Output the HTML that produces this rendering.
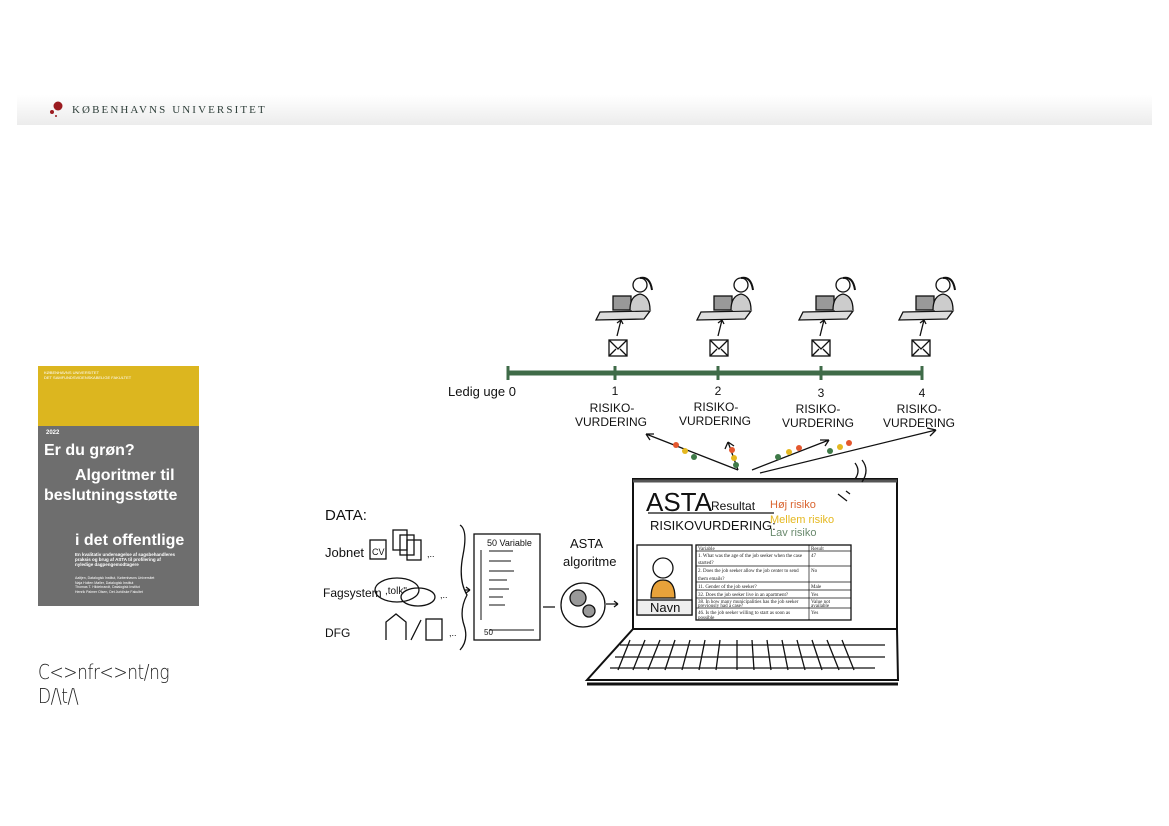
<!DOCTYPE html>
<html><head><meta charset="utf-8"><style>
body{margin:0;width:1169px;height:826px;background:#fff;position:relative;overflow:hidden;font-family:"Liberation Sans",sans-serif}
.hdr{position:absolute;left:17px;top:95px;width:1135px;height:30px;background:linear-gradient(#fff,#ececec)}
.ku{position:absolute;left:72px;top:104px;font-family:"Liberation Serif",serif;font-size:11px;letter-spacing:2.1px;color:#2f3f3a}
.cov{position:absolute;left:38px;top:366px;width:161px;height:240px;background:#6e6e6e}
.cov .y{position:absolute;left:0;top:0;width:161px;height:60px;background:#dcb61f}
.cov div{position:absolute;color:#fff;font-weight:bold}
.ct{position:absolute;left:38px;top:660px;font-size:20px;color:#222;line-height:24px;font-family:"DejaVu Sans",sans-serif;font-weight:300;transform:scaleX(0.85);transform-origin:0 0;letter-spacing:-0.5px}
</style></head><body>
<div class="hdr"></div>
<svg style="position:absolute;left:48px;top:100px" width="20" height="20"><circle cx="10" cy="6" r="4.5" fill="#9b1b20"/><circle cx="4" cy="12" r="2" fill="#9b1b20"/><circle cx="8" cy="16" r="1" fill="#9b1b20"/></svg>
<div class="ku">KØBENHAVNS UNIVERSITET</div>
<div class="cov"><div class="y"></div>
<div style="left:6px;top:4px;font-size:4px;font-weight:normal">KØBENHAVNS UNIVERSITET<br>DET SAMFUNDSVIDENSKABELIGE FAKULTET</div>
<div style="left:8px;top:64px;font-size:6px">2022</div>
<div style="left:6px;top:76px;font-size:16px">Er du grøn?</div>
<div style="left:37px;top:101px;font-size:16px">Algoritmer til</div>
<div style="left:6px;top:121px;font-size:16px">beslutningsstøtte</div>
<div style="left:37px;top:166px;font-size:16px">i det offentlige</div>
<div style="left:37px;top:186px;font-size:4.5px;line-height:5px">En kvalitativ undersøgelse af sagsbehandleres<br>praksis og brug af ASTA til profilering af<br>nyledige dagpengemodtagere</div>
<div style="left:37px;top:210px;font-size:3.5px;line-height:4.5px;font-weight:normal">Aaltjen, Datalogisk Institut, Københavns Universitet<br>Naja Holten Møller, Datalogisk Institut<br>Thomas T. Hildebrandt, Datalogisk Institut<br>Henrik Palmer Olsen, Det Juridiske Fakultet</div>
</div>
<div class="ct">C&lt;&gt;nfr&lt;&gt;nt/ng<br>D/\t/\</div>
<svg style="position:absolute;left:0;top:0" width="1169" height="826" font-family="Liberation Sans, sans-serif">
<g stroke="#111" fill="none" stroke-width="1.3">
<line x1="508" y1="373" x2="922" y2="373" stroke="#3f6b48" stroke-width="5"/>
<g stroke="#3f6b48" stroke-width="3"><line x1="508" y1="366" x2="508" y2="380"/><line x1="615" y1="366" x2="615" y2="380"/><line x1="718" y1="366" x2="718" y2="380"/><line x1="821" y1="366" x2="821" y2="380"/><line x1="922" y1="366" x2="922" y2="380"/></g>
<g id="p">
<rect x="609" y="340" width="18" height="16"/><path d="M609 340l9 9 9-9M609 356l7-7M627 356l-7-7"/>
<path d="M617 336l4-16M621 320l-4 3M621 320l2 4"/>
<path d="M600 312l50-1-6 8-48 1z" fill="#ddd"/><rect x="613" y="296" width="18" height="14" fill="#999"/>
<path d="M630 310q0-14 10-16 10 2 10 16" fill="#ccc"/><circle cx="640" cy="285" r="7" fill="#fff"/><path d="M640 278q10-2 12 12" stroke-width="2"/>
</g>
<use href="#p" transform="translate(101,0)"/><use href="#p" transform="translate(203,0)"/><use href="#p" transform="translate(303,0)"/>
<path d="M738 470L646 434M646 434l8 0M646 434l4 6"/>
<path d="M738 470l-10-28M728 442l-3 7M728 442l6 4"/>
<path d="M752 470l77-30M829 440l-9 0M829 440l-4 6"/>
<path d="M760 473l176-43M936 430l-9-2M936 430l-6 6"/>
<rect x="633" y="479" width="264" height="150" stroke-width="2"/>
<line x1="633" y1="481" x2="897" y2="481" stroke-width="3" stroke="#555"/>
<path d="M633 629L587 680H898L897 629" stroke-width="2"/><line x1="587" y1="684" x2="898" y2="684" stroke-width="3"/>
<path d="M620 645h265M615 657h270M610 668h265"/>
<path d="M630 640l-12 30M645 640l-12 30M660 640l-12 30M675 640l-10 30M690 640l-8 30M705 640l-6 30M720 640l-4 30M737 640v30M752 640l2 30M767 640l4 30M782 640l6 30M797 640l8 30M812 640l10 30M827 640l12 30M842 640l12 30"/>
<path d="M648 513h126" /><path d="M838 494l9 7M846 491l4 3M855 463q6 8 0 16M862 460q8 10 0 22"/>
<rect x="637" y="545" width="55" height="70"/><rect x="637" y="600" width="55" height="15" fill="#eee"/>
<circle cx="663" cy="568" r="10"/><path d="M651 598q0-18 12-18 12 0 12 18z" fill="#e8a23a"/>
<rect x="696" y="545" width="155" height="75"/>
<g stroke-width="0.7"><line x1="809" y1="545" x2="809" y2="620"/><path d="M696 551h155M696 566h155M696 582h155M696 590h155M696 598h155M696 608h155"/></g>
<path d="M460 525q8 5 3 30t4 40q-8 15-3 30t-4 25"/>
<path d="M470 590h-6M470 590l-4-3M470 590l-4 3"/>
<rect x="474" y="534" width="66" height="106"/>
<path d="M489 551h24M489 561h22M489 571h25M489 580h18M489 589h20M489 597h14M489 605h16M489 630h45M481 550v70" stroke-width="1"/>
<path d="M543 607h12M606 604h12M618 604l-4-3M618 604l-4 3"/>
<circle cx="583" cy="605" r="22"/><circle cx="578" cy="598" r="8" fill="#999"/><circle cx="589" cy="611" r="6" fill="#999"/>
<rect x="370" y="540" width="16" height="19"/><rect x="393" y="530" width="14" height="20"/><rect x="400" y="535" width="14" height="20"/><rect x="407" y="540" width="14" height="20"/>
<ellipse cx="397" cy="590" rx="22" ry="12"/><ellipse cx="418" cy="597" rx="17" ry="9"/>
<path d="M386 640v-18l10-8 10 8v18M411 640l10-20"/><rect x="426" y="619" width="16" height="21"/>
</g>
<g fill="#e4572e"><circle cx="676" cy="445" r="3"/><circle cx="732" cy="450" r="3"/><circle cx="799" cy="448" r="3"/><circle cx="849" cy="443" r="3"/></g>
<g fill="#e5b820"><circle cx="685" cy="451" r="3"/><circle cx="734" cy="458" r="3"/><circle cx="789" cy="452" r="3"/><circle cx="840" cy="447" r="3"/></g>
<g fill="#3f7a48"><circle cx="694" cy="457" r="3"/><circle cx="736" cy="465" r="3"/><circle cx="778" cy="457" r="3"/><circle cx="830" cy="451" r="3"/></g>
<g fill="#111" font-size="12" text-anchor="middle">
<text x="482" y="396" font-size="13">Ledig uge 0</text>
<text x="615" y="395">1</text><text x="718" y="395">2</text><text x="821" y="397">3</text><text x="922" y="397">4</text>
<text x="612" y="412">RISIKO-</text><text x="611" y="426">VURDERING</text>
<text x="716" y="411">RISIKO-</text><text x="715" y="425">VURDERING</text>
<text x="818" y="413">RISIKO-</text><text x="818" y="427">VURDERING</text>
<text x="919" y="413">RISIKO-</text><text x="919" y="427">VURDERING</text>
</g>
<g fill="#111">
<text x="646" y="511" font-size="26">ASTA</text><text x="711" y="510" font-size="12">Resultat</text>
<text x="650" y="530" font-size="13">RISIKOVURDERING:</text>
<text x="770" y="508" font-size="11" fill="#d9642f">Høj risiko</text>
<text x="770" y="523" font-size="11" fill="#e5b820">Mellem risiko</text>
<text x="770" y="536" font-size="11" fill="#6a8a6e">Lav risiko</text>
<text x="650" y="612" font-size="13">Navn</text>
<text x="325" y="520" font-size="15">DATA:</text>
<text x="325" y="557" font-size="13">Jobnet</text><text x="372" y="555" font-size="9">CV</text>
<text x="323" y="597" font-size="12">Fagsystem</text><text x="385" y="594" font-size="10">,tolk"</text>
<text x="325" y="637" font-size="12">DFG</text>
<text x="487" y="546" font-size="9">50 Variable</text><text x="484" y="635" font-size="8">50</text>
<text x="570" y="548" font-size="13">ASTA</text><text x="563" y="566" font-size="13">algoritme</text>
<text x="427" y="557" font-size="9">,..</text><text x="440" y="598" font-size="9">,..</text><text x="449" y="636" font-size="9">,..</text>
</g>
<g font-family="Liberation Serif, serif" font-size="5" fill="#222">
<text x="698" y="550">Variable</text><text x="811" y="550">Result</text>
<text x="698" y="557">1. What was the age of the job seeker when the case</text><text x="698" y="564">started?</text><text x="811" y="557">47</text>
<text x="698" y="572">2. Does the job seeker allow the job center to send</text><text x="698" y="580">them emails?</text><text x="811" y="572">No</text>
<text x="698" y="588">11. Gender of the job seeker?</text><text x="811" y="588">Male</text>
<text x="698" y="596">32. Does the job seeker live in an apartment?</text><text x="811" y="596">Yes</text>
<text x="698" y="603">38. In how many municipalities has the job seeker</text><text x="698" y="607">previously had a case?</text><text x="811" y="603">Value not</text><text x="811" y="607">available</text>
<text x="698" y="614">46. Is the job seeker willing to start as soon as</text><text x="698" y="619">possible</text><text x="811" y="614">Yes</text>
</g>
</svg>
</body></html>
